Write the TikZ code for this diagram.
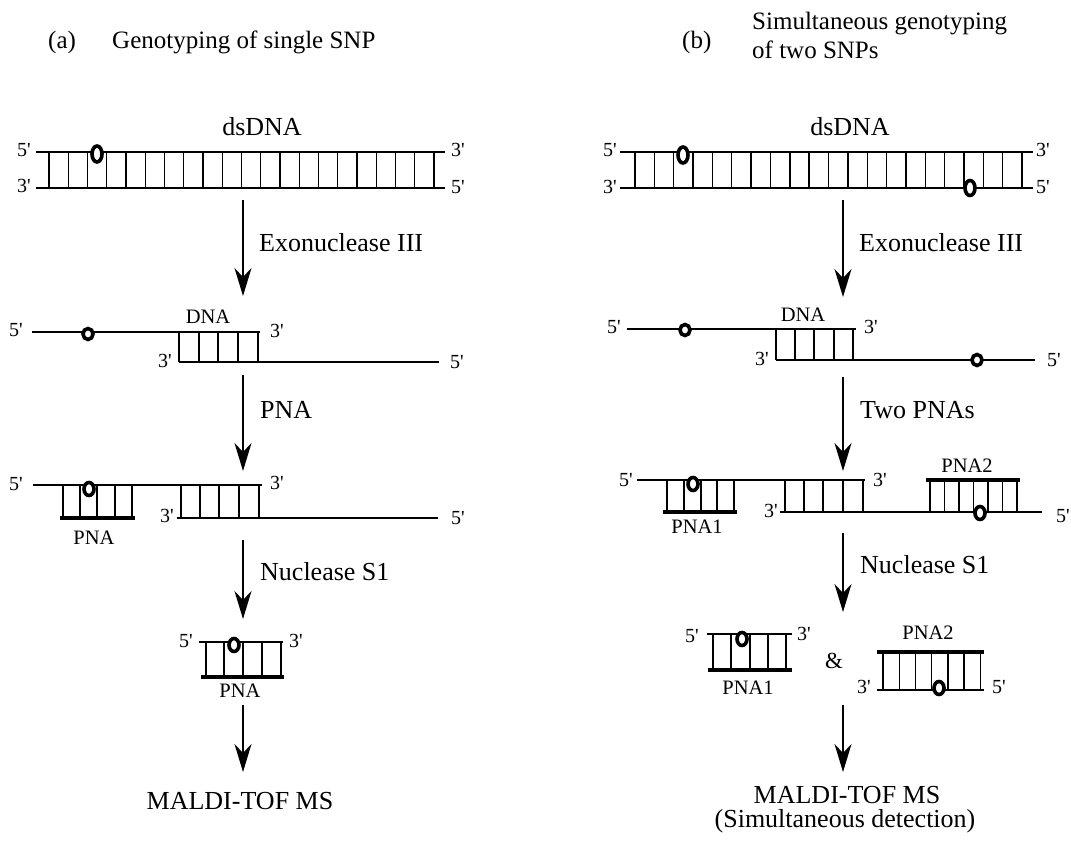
\documentclass[tikz,border=0pt]{standalone}
\usepackage{fontspec}
\setmainfont{Liberation Serif}
\newfontfamily\primefont{Liberation Serif}
\usetikzlibrary{arrows.meta}
\begin{document}
\begin{tikzpicture}[x=1pt,y=-1pt,
  strand/.style={line width=1.6pt},
  rung/.style={line width=1.4pt},
  pnabar/.style={line width=4pt},
  snp/.style={line width=3.6pt, fill=white},
  endl/.style={font=\primefont\fontsize{20}{22}\selectfont, inner sep=0pt, anchor=base},
  small/.style={font=\fontsize{20.5}{22}\selectfont, inner sep=0pt, anchor=base},
  lbl/.style={font=\fontsize{26}{28}\selectfont, inner sep=0pt},
  ttl/.style={font=\fontsize{25}{27}\selectfont, inner sep=0pt, anchor=west},
  stepar/.style={line width=1.8pt, -{Stealth[length=28pt,width=17pt,inset=9pt]}}
]
\useasboundingbox (0,0) rectangle (1071,843);

% ---------- titles ----------
\node[ttl] (ta) at (48,42) {(a)};
\node[ttl] (tat) at (112,42) {Genotyping of single SNP};
\node[ttl] (tb) at (682,42) {(b)};
\node[ttl] (tbt1) at (752,24) {Simultaneous genotyping};
\node[ttl] (tbt2) at (752,50) {of two SNPs};

% ================= LEFT (a) =================
% dsDNA
\node[lbl] (dsa) at (262,127) {dsDNA};
\draw[strand] (36,152) -- (445,152);
\draw[strand] (36,188) -- (445,188);
\foreach \i in {0,...,20} \draw[rung] ({49+19.25*\i},152) -- ({49+19.25*\i},188);
\draw[snp] (97,154) ellipse [x radius=5pt, y radius=8pt];
\node[endl] (a1l5) at (24,156) {5'};
\node[endl] (a1l3) at (24,192) {3'};
\node[endl] (a1r3) at (458,156) {3'};
\node[endl] (a1r5) at (458,193) {5'};

% arrow 1
\coordinate (a1s) at (243,200);
\coordinate (a1e) at (243,296);
\draw[stepar] (a1s) -- (a1e);
\node[lbl, anchor=west] (exa) at (259,243) {Exonuclease III};

% partial DNA
\node[small] (dnaa) at (208,323) {DNA};
\draw[strand] (32,332) -- (260,332);
\draw[strand] (179,362) -- (439,362);
\foreach \x in {179,199,218,238,258} \draw[rung] (\x,332) -- (\x,362);
\draw[snp] (88,334) ellipse [x radius=5pt, y radius=5.5pt];
\node[endl] (a2l5) at (16,336) {5'};
\node[endl] (a2r3) at (277,337) {3'};
\node[endl] (a2b3) at (165,367) {3'};
\node[endl] (a2r5) at (457,368) {5'};

% arrow 2
\coordinate (a2s) at (243,375);
\coordinate (a2e) at (243,471);
\draw[stepar] (a2s) -- (a2e);
\node[lbl, anchor=west] (pnaa) at (260,410) {PNA};

% with PNA
\draw[strand] (33,485) -- (262,485);
\draw[pnabar] (60,518) -- (135,518);
\foreach \x in {63,80,97,115,132} \draw[rung] (\x,485) -- (\x,518);
\draw[snp] (89,489) ellipse [x radius=5pt, y radius=6.5pt];
\foreach \x in {181,200,219,239,259} \draw[rung] (\x,485) -- (\x,518);
\draw[strand] (177,518) -- (438,518);
\node[small] (pnalab1) at (94,544) {PNA};
\node[endl] (a3l5) at (16,490) {5'};
\node[endl] (a3r3) at (277,489) {3'};
\node[endl] (a3b3) at (167,522) {3'};
\node[endl] (a3r5) at (458,524) {5'};

% arrow 3
\coordinate (a3s) at (243,540);
\coordinate (a3e) at (243,619);
\draw[stepar] (a3s) -- (a3e);
\node[lbl, anchor=west] (nsa) at (260,572) {Nuclease S1};

% product
\draw[strand] (199,642) -- (283,642);
\foreach \x in {206,224,243,262,281} \draw[rung] (\x,642) -- (\x,677);
\draw[pnabar] (201,677) -- (284,677);
\draw[snp] (234,645) ellipse [x radius=5pt, y radius=6.5pt];
\node[endl] (a4l5) at (186,647) {5'};
\node[endl] (a4r3) at (296,647) {3'};
\node[small] (pnalab2) at (240,697) {PNA};

% arrow 4
\coordinate (a4s) at (243,705);
\coordinate (a4e) at (243,772);
\draw[stepar] (a4s) -- (a4e);
\node[lbl] (msa) at (240,801) {MALDI-TOF MS};

% ================= RIGHT (b) =================
\node[lbl] (dsb) at (850,127) {dsDNA};
\draw[strand] (620,152) -- (1033,152);
\draw[strand] (620,188) -- (1033,188);
\foreach \i in {0,...,20} \draw[rung] ({635+19.35*\i},152) -- ({635+19.35*\i},188);
\draw[snp] (683,155) ellipse [x radius=5pt, y radius=8pt];
\draw[snp] (970,188) ellipse [x radius=5pt, y radius=7.5pt];
\node[endl] (b1l5) at (610,156) {5'};
\node[endl] (b1l3) at (610,193) {3'};
\node[endl] (b1r3) at (1043,156) {3'};
\node[endl] (b1r5) at (1043,193) {5'};

% arrow 1
\coordinate (b1s) at (843,200);
\coordinate (b1e) at (843,297);
\draw[stepar] (b1s) -- (b1e);
\node[lbl, anchor=west] (exb) at (859,243) {Exonuclease III};

% partial DNA
\node[small] (dnab) at (803,321) {DNA};
\draw[strand] (627,329) -- (856,329);
\draw[strand] (776,360) -- (1035,360);
\foreach \x in {776,795,814,834,853} \draw[rung] (\x,329) -- (\x,360);
\draw[snp] (685,330) ellipse [x radius=5pt, y radius=5.5pt];
\draw[snp] (977,360) ellipse [x radius=5pt, y radius=5.5pt];
\node[endl] (b2l5) at (614,333) {5'};
\node[endl] (b2r3) at (871,333) {3'};
\node[endl] (b2b3) at (762,365) {3'};
\node[endl] (b2r5) at (1054,366) {5'};

% arrow 2
\coordinate (b2s) at (843,377);
\coordinate (b2e) at (843,471);
\draw[stepar] (b2s) -- (b2e);
\node[lbl, anchor=west] (twob) at (860,410) {Two PNAs};

% two PNAs bound
\draw[strand] (637,480) -- (865,480);
\draw[pnabar] (663,512) -- (737,512);
\foreach \x in {667,684,701,717,734} \draw[rung] (\x,480) -- (\x,512);
\draw[snp] (693,484) ellipse [x radius=5pt, y radius=6.5pt];
\foreach \x in {785,804,823,843,863} \draw[rung] (\x,480) -- (\x,512);
\draw[strand] (780,512) -- (1042,512);
\draw[pnabar] (926,480) -- (1020,480);
\foreach \i in {0,...,6} \draw[rung] ({930+14.5*\i},480) -- ({930+14.5*\i},512);
\draw[snp] (980,513) ellipse [x radius=5pt, y radius=6.5pt];
\node[small] (pna1b) at (697,533) {PNA1};
\node[small] (pna2b) at (967,472) {PNA2};
\node[endl] (b3l5) at (626,486) {5'};
\node[endl] (b3r3) at (880,486) {3'};
\node[endl] (b3b3) at (771,517) {3'};
\node[endl] (b3r5) at (1063,522) {5'};

% arrow 3
\coordinate (b3s) at (843,533);
\coordinate (b3e) at (843,612);
\draw[stepar] (b3s) -- (b3e);
\node[lbl, anchor=west] (nsb) at (860,565) {Nuclease S1};

% products
\draw[strand] (707,634) -- (792,634);
\foreach \x in {713,731,750,768,786} \draw[rung] (\x,634) -- (\x,670);
\draw[pnabar] (708,670) -- (792,670);
\draw[snp] (742,639) ellipse [x radius=5pt, y radius=6.5pt];
\node[endl] (b4l5) at (692,642) {5'};
\node[endl] (b4r3) at (804,640) {3'};
\node[small] (pna1c) at (748,694) {PNA1};
\node[small, font=\fontsize{23}{25}\selectfont] (amp) at (834,668) {\&};
\draw[pnabar] (877,652) -- (984,652);
\foreach \i in {0,...,6} \draw[rung] ({883+16.2*\i},652) -- ({883+16.2*\i},690);
\draw[strand] (877,690) -- (984,690);
\draw[snp] (939,688) ellipse [x radius=5pt, y radius=6.5pt];
\node[endl] (b4b3) at (864,693) {3'};
\node[endl] (b4r5) at (999,693) {5'};
\node[small] (pna2c) at (928,639) {PNA2};

% arrow 4
\coordinate (b4s) at (843,705);
\coordinate (b4e) at (843,772);
\draw[stepar] (b4s) -- (b4e);
\node[lbl] (msb) at (847,795) {MALDI-TOF MS};
\node[lbl] (msb2) at (845,821) {(Simultaneous detection)};
\end{tikzpicture}
\end{document}
